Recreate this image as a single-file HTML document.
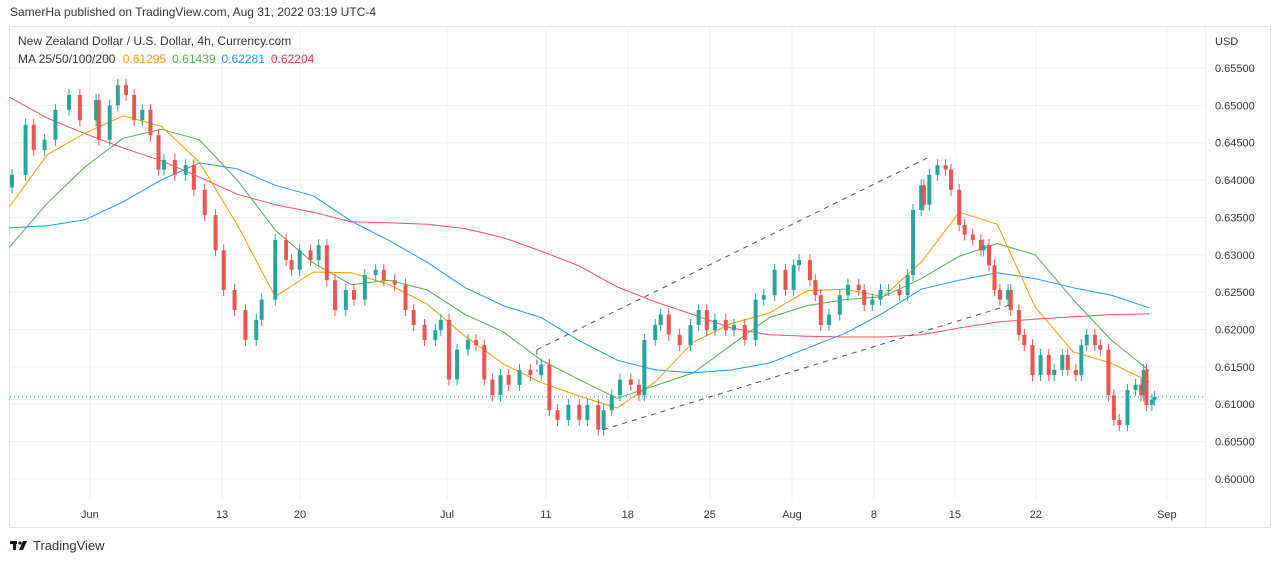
<!DOCTYPE html>
<html><head><meta charset="utf-8"><style>
body{margin:0;background:#fff;width:1280px;height:563px;overflow:hidden;font-family:"Liberation Sans",sans-serif}
svg{position:absolute;left:0;top:0}
</style></head><body>
<svg width="1280" height="563">
<text x="10" y="16" font-size="12" fill="#333">SamerHa published on TradingView.com, Aug 31, 2022 03:19 UTC-4</text>
<rect x="9.5" y="26.5" width="1261" height="501" fill="none" stroke="#e0e3eb"/>
<g id="grid"></g>
<g id="mas"></g>
<g id="candles"></g>
<g id="overlay"></g>
<text x="18" y="45" font-size="12" fill="#333">New Zealand Dollar / U.S. Dollar, 4h, Currency.com</text>
<text x="18" y="63" font-size="12" fill="#333">MA 25/50/100/200 <tspan fill="#ff9800" dx="4">0.61295</tspan><tspan fill="#4caf50" dx="6">0.61439</tspan><tspan fill="#2196f3" dx="6">0.62281</tspan><tspan fill="#f23645" dx="6">0.62204</tspan></text>
<text x="1215" y="45" font-size="11" fill="#333">USD</text>
<g>
<rect x="10" y="541" width="7" height="3" fill="#131722"/><rect x="13" y="541" width="3" height="9" fill="#131722"/><circle cx="20" cy="543" r="1.6" fill="#131722"/><polygon points="23,541 27,541 23,550 19,550" fill="#131722"/>
<text x="33" y="550" font-size="13" fill="#333">TradingView</text></g>
</svg>
<script>
const closes=[.6407,.6474,.6440,.6454,.6494,.6514,.6480,.6507,.6454,.6500,
.6527,.6514,.6480,.6494,.6460,.6414,.6427,.6407,.6420,.6387,
.6353,.6306,.6253,.6226,.6186,.6213,.6240,.6320,.6293,.6280,
.6306,.6293,.6313,.6266,.6226,.6253,.6240,.6273,.6280,.6266,
.6260,.6226,.6206,.6186,.6199,.6213,.6133,.6173,.6186,.6179,
.6133,.6112,.6139,.6126,.6146,.6139,.6153,.6092,.6079,.6099,
.6079,.6099,.6066,.6092,.6112,.6133,.6126,.6112,.6186,.6206,
.6220,.6193,.6179,.6206,.6226,.6199,.6213,.6199,.6206,.6186,
.6240,.6246,.6280,.6253,.6286,.6293,.6266,.6246,.6206,.6220,
.6246,.6260,.6253,.6233,.6240,.6253,.6253,.6246,.6273,.6360,
.6393,.6367,.6407,.6420,.6414,.6387,.6340,.6327,.6320,.6306,
.6313,.6286,.6253,.6240,.6253,.6226,.6193,.6179,.6139,.6166,
.6139,.6146,.6166,.6146,.6139,.6179,.6193,.6179,.6173,.6112,
.6079,.6072,.6119,.6126,.6112,.6146,.6099,.6106,.6110];
const barT=[0,5,8,12,16,21,25,31,32,36,39,42,45,48,51,54,56,60,64,67,
71,75,78,82,86,90,92,97,101,103,106,110,113,116,119,123,126,130,134,137,
141,145,148,152,156,158,161,164,168,171,174,177,180,183,187,191,195,198,201,205,
209,212,216,218,221,224,228,231,233,237,239,242,246,250,253,256,259,263,266,270,
274,277,281,285,288,290,294,296,298,301,305,308,312,314,317,320,323,327,330,332,
335,336,338,341,344,346,349,351,354,357,358,360,362,364,367,368,371,373,376,379,
382,384,387,389,392,394,396,399,401,404,406,408,411,414,416,417,418,420,421];
const firstOpen=.6390;
const maT=[-1,13,27,41,55,69,83,97,111,125,139,153,167,181,195,209,223,237,251,265,279,293,307,321,335,349,363,377,391,405,419];
const ma25=[.6364,.6434,.6463,.6486,.6472,.6424,.6340,.6244,.6277,.6276,.6260,.6234,.6191,.6154,.6129,.6111,.6095,.6130,.6183,.6208,.6222,.6252,.6254,.6244,.6290,.6357,.6341,.6230,.6170,.6155,.6130];
const ma50=[.6310,.6369,.6418,.6456,.6468,.6454,.6400,.6333,.6289,.6260,.6266,.6253,.6220,.6197,.6159,.6133,.6108,.6125,.6142,.6179,.6216,.6232,.6240,.6244,.6268,.6298,.6315,.6300,.6240,.6186,.6145];
const ma100=[.6336,.6339,.6347,.6371,.6400,.6423,.6415,.6393,.6379,.6345,.6319,.6290,.6256,.6232,.6216,.6185,.6159,.6146,.6142,.6146,.6155,.6175,.6195,.6222,.6254,.6266,.6276,.6268,.6256,.6246,.6229];
const ma200=[.6511,.6483,.6462,.6443,.6426,.6404,.6381,.6367,.6357,.6344,.6343,.6341,.6335,.6323,.6305,.6285,.6257,.6237,.6220,.6202,.6193,.6191,.6190,.6190,.6193,.6202,.6210,.6214,.6217,.6220,.6221];
const priceTicks=[0.600,0.605,0.610,0.615,0.620,0.625,0.630,0.635,0.640,0.645,0.650,0.655];
const timeTickT=[28.7,77.4,106.1,160.3,196.7,226.9,257.1,287.4,317.6,347.4,377.2,425.5];
const timeTickLabels=["Jun","13","20","Jul","11","18","25","Aug","8","15","22","Sep"];
const lastPrice=.6110;
const channelUpperT=[193.4,337.5];
const channelUpperP=[.6173,.6430];
const channelLowerT=[217.8,367.8];
const channelLowerP=[.6066,.6233];
</script>
<script>
const NS="http://www.w3.org/2000/svg";
const Y=p=>68+(0.655-p)/0.005*37.36;
const X=t=>12+t*2.714;
function mk(tag,attrs,parent){const e=document.createElementNS(NS,tag);for(const k in attrs)e.setAttribute(k,attrs[k]);parent.appendChild(e);return e;}
const grid=document.getElementById('grid');
priceTicks.forEach(p=>{
  const l=mk('line',{x1:10,x2:1205,y1:Y(p),y2:Y(p),stroke:'#eef0f5'},grid);
  
  
  const t=mk('text',{x:1215,y:Y(p)+4,'font-size':11,fill:'#333'},grid);
  
  
  t.textContent=p.toFixed(5);
});
timeTickT.forEach((tt,i)=>{
  const x=X(tt);
  const l=mk('line',{x1:x,x2:x,y1:27,y2:500,stroke:'#eef0f5'},grid);
  
  
  const t=mk('text',{x:x,y:518,'font-size':11,fill:'#333','text-anchor':'middle'},grid);
  
  
  t.textContent=timeTickLabels[i];
});
const ax=mk('line',{x1:1205.5,x2:1205.5,y1:27,y2:527,stroke:'#eef0f5'},grid);


const mas=document.getElementById('mas');
[[ma200,'#f7525f','ma200-line'],[ma100,'#2196f3','ma100-line'],[ma50,'#4caf50','ma50-line'],[ma25,'#ff9800','ma25-line']].forEach(([arr,c,n])=>{
  const d=arr.map((v,i)=>(i?'L':'M')+X(maT[i]).toFixed(1)+','+Y(v).toFixed(1)).join('');
  const p=mk('path',{d:d,fill:'none',stroke:c,'stroke-width':1,'stroke-linejoin':'round'},mas);
  
  
});
const cg=document.getElementById('candles');
closes.forEach((c,i)=>{
  const o=i?closes[i-1]:firstOpen;
  const up=c>=o,col=up?'#26a69a':'#ef5350';
  const x=X(barT[i]);
  const y1=Y(Math.max(o,c)),y2=Y(Math.min(o,c));
  const w=mk('line',{x1:x,x2:x,y1:y1-6,y2:y2+6,stroke:col,'stroke-width':1},cg);
  
  
  const r=mk('rect',{x:x-2,y:y1,width:4,height:Math.max(1,y2-y1),fill:col},cg);
  
  
});
const ov=document.getElementById('overlay');
const pl=mk('line',{x1:10,x2:1205,y1:Y(lastPrice),y2:Y(lastPrice),stroke:'#26a69a','stroke-dasharray':'1,3','stroke-width':1},ov);


const cu=mk('line',{x1:X(channelUpperT[0]),y1:Y(channelUpperP[0]),x2:X(channelUpperT[1]),y2:Y(channelUpperP[1]),stroke:'#555','stroke-dasharray':'5,5','stroke-width':1},ov);


const cl=mk('line',{x1:X(channelLowerT[0]),y1:Y(channelLowerP[0]),x2:X(channelLowerT[1]),y2:Y(channelLowerP[1]),stroke:'#555','stroke-dasharray':'5,5','stroke-width':1},ov);


const cv=mk('line',{x1:X(channelUpperT[0]),y1:Y(channelUpperP[0]),x2:X(channelUpperT[0]),y2:Y(channelUpperP[0])+22,stroke:'#555','stroke-dasharray':'5,5','stroke-width':1},ov);


</script>
</body></html>
